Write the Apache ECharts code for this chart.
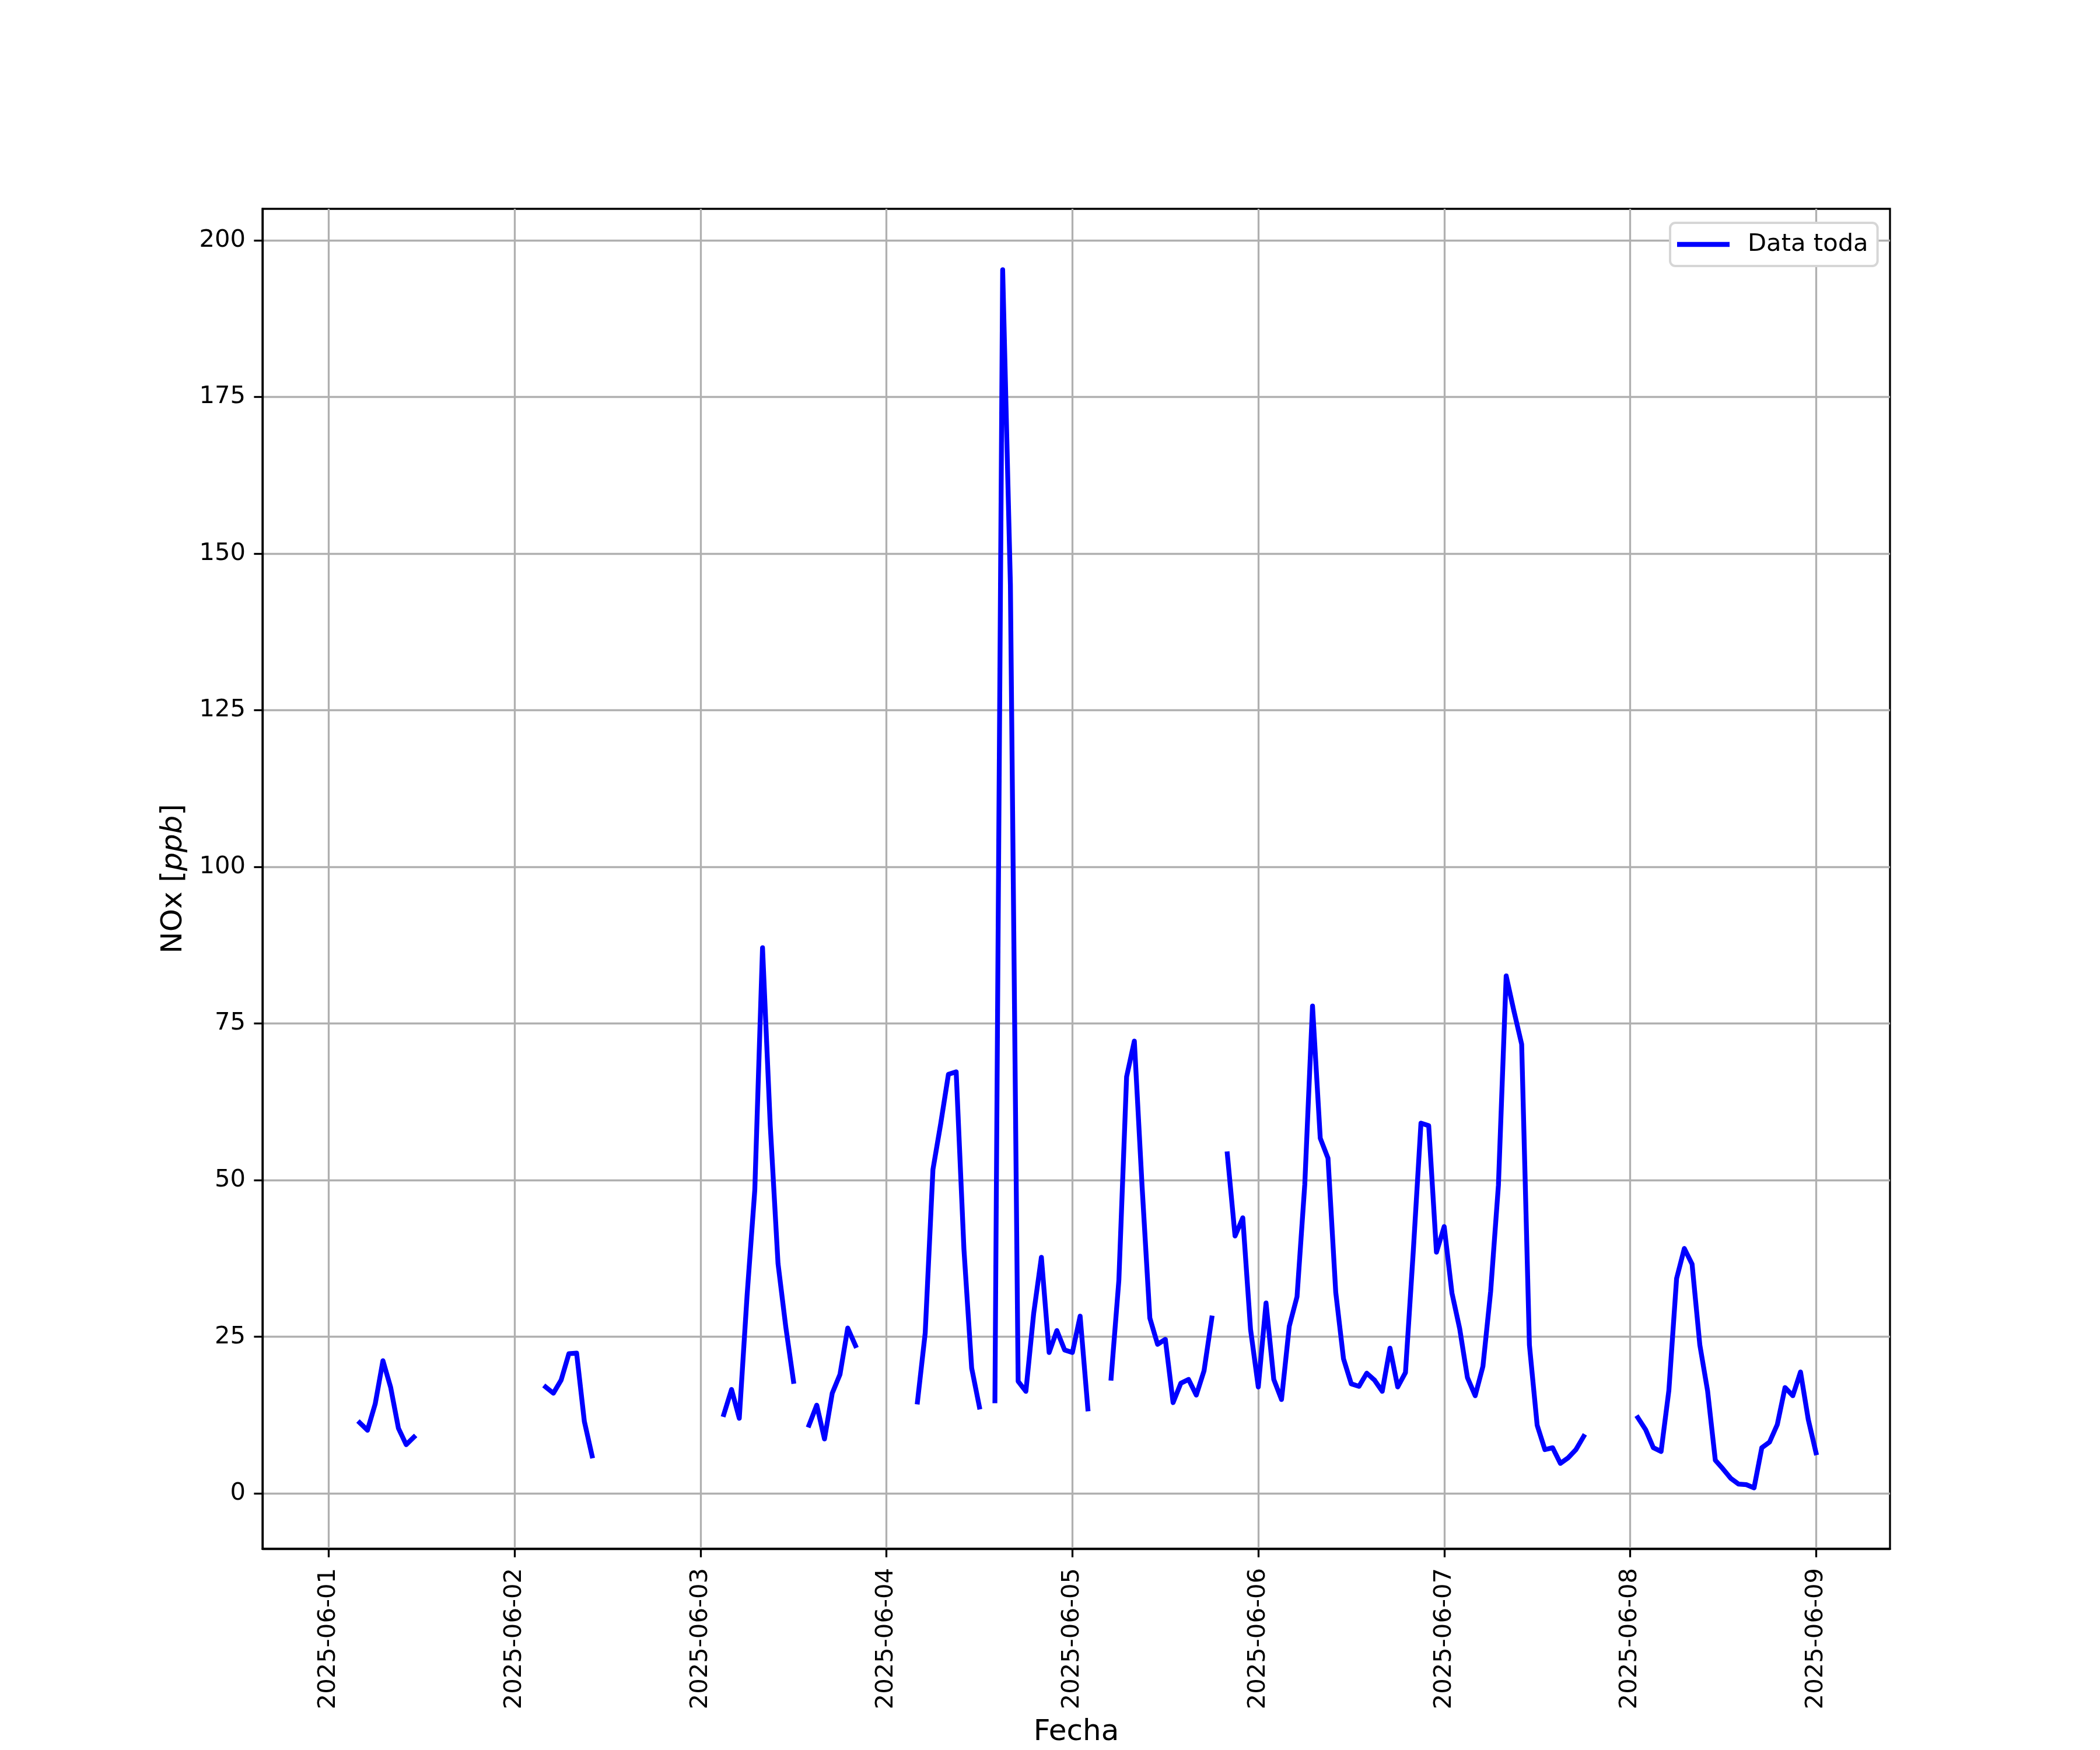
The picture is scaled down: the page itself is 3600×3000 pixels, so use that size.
<!DOCTYPE html>
<html>
<head>
<meta charset="utf-8">
<script src="https://cdn.jsdelivr.net/npm/echarts@6/dist/echarts.min.js"></script>
<style>
  html, body { margin: 0; padding: 0; background: #ffffff; }
  #chart { width: 3600px; height: 3000px; }
</style>
</head>
<body>
<div id="chart"></div>
<script>
// ---- Data: hourly NOx [ppb], one array per day (index = hour, null = no data) ----
const dayLabels = ['2025-06-01','2025-06-02','2025-06-03','2025-06-04','2025-06-05','2025-06-06','2025-06-07','2025-06-08','2025-06-09'];
const nox_0601 = [null,null,null,null,11.3,10.1,14.3,21.2,16.9,10.4,7.8,9.0,null,null,null,null,null,null,null,null,null,null,null,null];
const nox_0602 = [null,null,null,null,17.0,16.0,18.1,22.3,22.4,11.5,6.0,null,null,null,null,null,null,null,null,null,null,null,null,null];
const nox_0603 = [null,null,null,12.6,16.6,12.0,31.5,48.4,87.1,58.7,36.7,26.6,17.9,null,10.9,14.1,8.7,16.0,19.0,26.4,23.6,null,null,null];
const nox_0604 = [null,null,null,null,14.6,25.6,51.7,59.0,66.9,67.3,39.0,20.0,13.8,null,14.8,195.3,145.0,17.9,16.3,28.7,37.7,22.5,26.0,22.9];
const nox_0605 = [22.5,28.3,13.5,null,null,18.4,34.0,66.5,72.2,49.0,28.0,23.8,24.6,14.5,17.6,18.2,15.7,19.6,28.0,null,54.2,41.1,44.0,26.2];
const nox_0606 = [17.0,30.4,18.2,15.0,26.7,31.4,49.3,77.8,56.7,53.5,32.1,21.5,17.5,17.1,19.2,18.1,16.3,23.2,17.0,19.3,38.5,59.1,58.7,38.5];
const nox_0607 = [42.6,32.0,26.3,18.5,15.6,20.3,32.3,49.2,82.6,77.0,71.7,23.7,10.9,7.0,7.3,4.8,5.7,7.0,9.1,null,null,null,null,null];
const nox_0608 = [null,12.1,10.2,7.3,6.7,16.4,34.3,39.1,36.6,23.7,16.4,5.3,3.9,2.4,1.5,1.4,0.9,7.3,8.2,11.0,16.9,15.6,19.4,11.8];
const nox_0609 = [6.5];
const yTicks = [0,25,50,75,100,125,150,175,200];
const seriesName = 'Data toda';

// ---- Build the series ----
const days = [nox_0601,nox_0602,nox_0603,nox_0604,nox_0605,nox_0606,nox_0607,nox_0608,nox_0609];
const HOUR = 3600 * 1000;
const t0 = Date.UTC(2025, 5, 1, 0);
const data = [];
days.forEach((arr, d) => {
  arr.forEach((v, h) => {
    const t = t0 + (d * 24 + h) * HOUR;
    data.push([t, v === null ? '-' : v]);
  });
});
const dayTicks = dayLabels.map((_, i) => t0 + i * 24 * HOUR);
// matplotlib-like 5% margins around first timestamp (06-01 01:00) and last (06-09 00:00)
const firstT = t0 + 1 * HOUR, lastT = t0 + 192 * HOUR;
const xMargin = (lastT - firstT) * 0.05;
const yMinData = 0.9, yMaxData = 195.3, yMargin = (yMaxData - yMinData) * 0.05;

const FONT = 'DejaVu Sans';
const chart = echarts.init(document.getElementById('chart'), null, { renderer: 'canvas', width: 3600, height: 3000 });

function fmtDate(v) {
  const d = new Date(v);
  const p = n => String(n).padStart(2, '0');
  return d.getUTCFullYear() + '-' + p(d.getUTCMonth() + 1) + '-' + p(d.getUTCDate());
}

chart.setOption({
  animation: false,
  backgroundColor: '#ffffff',
  grid: {
    left: 450, right: 360, top: 358, bottom: 330,
    show: true, borderColor: '#000000', borderWidth: 3.3, backgroundColor: '#ffffff',
    containLabel: false
  },
  legend: {
    left: 2863, top: 382,
    data: [{ name: seriesName, icon: 'rect' }],
    itemWidth: 90, itemHeight: 8.3,
    padding: [16, 16, 16, 12],
    backgroundColor: '#ffffff',
    borderColor: '#d6d6d6', borderWidth: 4, borderRadius: 9,
    textStyle: { fontFamily: FONT, fontSize: 41.7, color: '#000000', lineHeight: 42, padding: [0, 0, 0, 26] }
  },
  xAxis: {
    type: 'value',
    min: firstT - xMargin,
    max: lastT + xMargin,
    name: 'Fecha',
    nameLocation: 'middle',
    nameGap: 290,
    nameTextStyle: { fontFamily: FONT, fontSize: 50, color: '#000000' },
    axisLine: { show: true, onZero: false, lineStyle: { color: '#000000', width: 3.3 } },
    axisTick: { show: true, inside: false, length: 14.6, customValues: dayTicks, lineStyle: { color: '#000000', width: 3.3 } },
    axisLabel: { show: true, rotate: 90, margin: 33, customValues: dayTicks, formatter: fmtDate,
                 fontFamily: FONT, fontSize: 41.7, color: '#000000' },
    splitLine: { show: true, lineStyle: { color: '#b0b0b0', width: 3.3 } }
  },
  yAxis: {
    type: 'value',
    min: yMinData - yMargin,
    max: yMaxData + yMargin,
    name: '{a|NOx [}{i|ppb}{a|]}',
    nameLocation: 'middle',
    nameGap: 127,
    nameRotate: 90,
    nameTextStyle: {
      fontFamily: FONT, fontSize: 50, color: '#000000',
      rich: {
        a: { fontFamily: FONT, fontSize: 50, color: '#000000' },
        i: { fontFamily: FONT, fontSize: 50, color: '#000000', fontStyle: 'italic' }
      }
    },
    axisLine: { show: true, onZero: false, lineStyle: { color: '#000000', width: 3.3 } },
    axisTick: { show: true, inside: false, length: 14.6, customValues: yTicks, lineStyle: { color: '#000000', width: 3.3 } },
    axisLabel: { show: true, margin: 29, customValues: yTicks, fontFamily: FONT, fontSize: 41.7, color: '#000000' },
    splitLine: { show: true, lineStyle: { color: '#b0b0b0', width: 3.3 } }
  },
  series: [{
    name: seriesName,
    type: 'line',
    data: data,
    showSymbol: false,
    symbol: 'none',
    connectNulls: false,
    lineStyle: { color: '#0000ff', width: 8.3, cap: 'square', join: 'round' },
    itemStyle: { color: '#0000ff' },
    z: 3
  }]
});
</script>
</body>
</html>
